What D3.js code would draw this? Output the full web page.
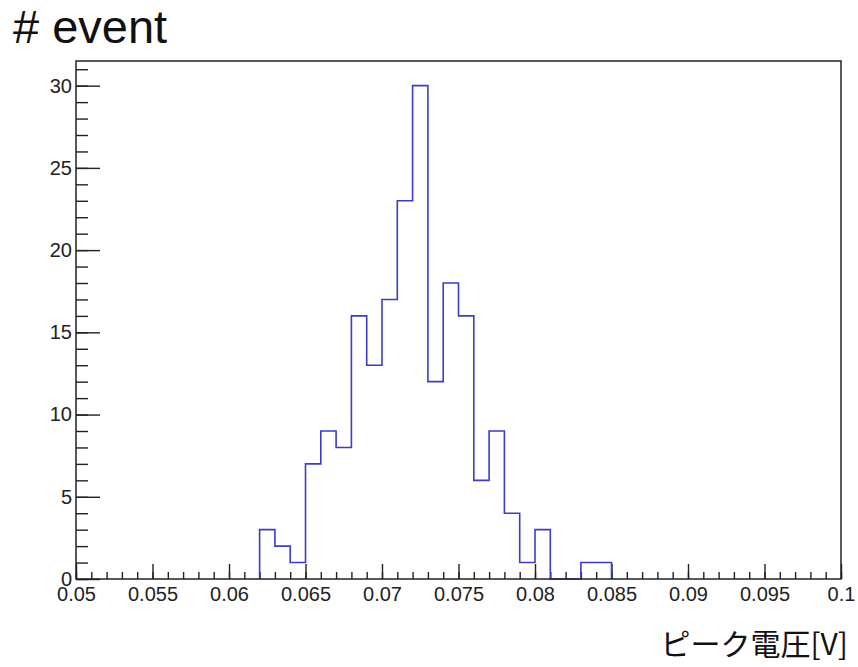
<!DOCTYPE html>
<html>
<head>
<meta charset="utf-8">
<script src="https://cdn.jsdelivr.net/npm/d3@7/dist/d3.min.js"></script>
<style>
  html, body { margin: 0; padding: 0; background: #fff; }
  svg { display: block; }
</style>
</head>
<body>
<svg id="chart" width="858" height="667"></svg>
<script>
// histogram of peak voltage, bin width 0.001 V (only non-empty range listed)
var binWidth = 0.001;
var binLows = [0.062, 0.063, 0.064, 0.065, 0.066, 0.067, 0.068, 0.069, 0.070, 0.071,
               0.072, 0.073, 0.074, 0.075, 0.076, 0.077, 0.078, 0.079, 0.080, 0.081,
               0.082, 0.083, 0.084];
var counts  = [3, 2, 1, 7, 9, 8, 16, 13, 17, 23,
               30, 12, 18, 16, 6, 9, 4, 1, 3, 0,
               0, 1, 1];

var xTicks = [0.05, 0.055, 0.06, 0.065, 0.07, 0.075, 0.08, 0.085, 0.09, 0.095, 0.1];
var xTickLabels = ["0.05", "0.055", "0.06", "0.065", "0.07", "0.075", "0.08", "0.085", "0.09", "0.095", "0.1"];
var yTicks = [0, 5, 10, 15, 20, 25, 30];

var xDomain = [0.05, 0.1];
var yDomain = [0, 31.5];

// plot frame (not "top": that name is taken by window.top)
var frameLeft = 76, frameRight = 841, frameTop = 61, frameBottom = 579;

var svg = d3.select("#chart");

var x = d3.scaleLinear().domain(xDomain).range([frameLeft, frameRight]);
var y = d3.scaleLinear().domain(yDomain).range([frameBottom, frameTop]);

var axisColor = "#222";
var labelFont = "'Liberation Sans', Arial, Helvetica, sans-serif";

// minor ticks every 0.001 / every 1 count
var xMinor = d3.range(51).map(function(i) { return 0.05 + i * 0.001; });
var yMinor = d3.range(32);

function styleAxis(g) {
    g.attr("font-size", null).attr("font-family", null);
    g.select(".domain").remove();
    g.selectAll(".tick line").attr("stroke", axisColor).attr("stroke-width", 1.4);
    g.selectAll(".tick text")
        .attr("fill", "#222")
        .attr("font-family", labelFont)
        .attr("font-size", "20px");
}

svg.append("g")
    .attr("transform", "translate(0," + frameBottom + ")")
    .call(d3.axisBottom(x).tickValues(xMinor).tickSize(-7).tickFormat(""))
    .call(styleAxis);

svg.append("g")
    .attr("transform", "translate(0," + frameBottom + ")")
    .call(d3.axisBottom(x).tickValues(xTicks).tickSize(-15).tickPadding(8)
            .tickFormat(function(d, i) { return xTickLabels[i]; }))
    .call(styleAxis);

svg.append("g")
    .attr("transform", "translate(" + frameLeft + ",0)")
    .call(d3.axisLeft(y).tickValues(yMinor).tickSize(-12).tickFormat(""))
    .call(styleAxis);

svg.append("g")
    .attr("transform", "translate(" + frameLeft + ",0)")
    .call(d3.axisLeft(y).tickValues(yTicks).tickSize(-24).tickPadding(4)
            .tickFormat(d3.format("d")))
    .call(styleAxis);

// histogram outline
var pts = [[binLows[0], 0]];
binLows.forEach(function(lo, i) {
    pts.push([lo, counts[i]]);
    pts.push([lo + binWidth, counts[i]]);
});
pts.push([binLows[binLows.length - 1] + binWidth, 0]);

var line = d3.line()
    .x(function(d) { return x(d[0]); })
    .y(function(d) { return y(d[1]); });

svg.append("path")
    .datum(pts)
    .attr("d", line)
    .attr("fill", "none")
    .attr("stroke", "#3c3cc8")
    .attr("stroke-width", 1.6);

// frame
svg.append("rect")
    .attr("x", frameLeft)
    .attr("y", frameTop)
    .attr("width", frameRight - frameLeft)
    .attr("height", frameBottom - frameTop)
    .attr("fill", "none")
    .attr("stroke", axisColor)
    .attr("stroke-width", 1.5);

// titles
svg.append("text")
    .attr("x", 13)
    .attr("y", 43)
    .attr("font-family", labelFont)
    .attr("font-size", "47px")
    .attr("fill", "#111")
    .text("# event");

svg.append("text")
    .attr("x", 848)
    .attr("y", 655)
    .attr("text-anchor", "end")
    .attr("font-family", "'Noto Sans CJK JP', sans-serif")
    .attr("font-size", "30px")
    .attr("fill", "#111")
    .text("ピーク電圧[V]");
</script>
</body>
</html>
